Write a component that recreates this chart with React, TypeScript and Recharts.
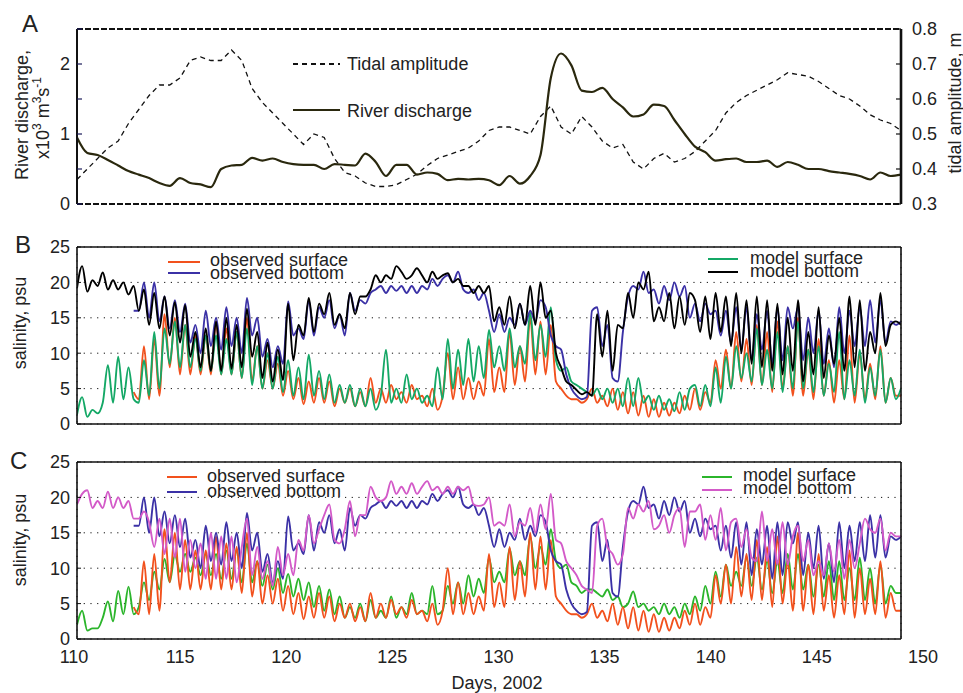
import { CartesianGrid, Line, LineChart, XAxis, YAxis } from 'recharts'

const FONT = '"Liberation Sans", Arial, Helvetica, sans-serif'
const INK = '#111111'
const TEXT = '#222222'
const WIDTH = 963

const OBS_SURFACE = '#f2511d'
const OBS_BOTTOM = '#3b31a6'
const MODEL_SURFACE_B = '#14a866'
const MODEL_BOTTOM_B = '#000000'
const MODEL_SURFACE_C = '#2bb52b'
const MODEL_BOTTOM_C = '#d35ac8'
const DISCHARGE_COLOR = '#2a280e'
const TIDE_COLOR = '#111111'

const DAY_TICKS = [110, 115, 120, 125, 130, 135, 140, 145, 150]
const SALINITY_TICKS = [0, 5, 10, 15, 20, 25]
const DISCHARGE_TICKS = [0, 0.5, 1, 1.5, 2, 2.5]
const TIDE_TICKS = [0.3, 0.4, 0.5, 0.6, 0.7, 0.8]

// Panel A: half-day values from day 110 to 150
const A_START = 110
const A_STEP = 0.5
// x10^3 m3/s
const riverDischarge = [
  0.95, 0.73, 0.7, 0.63, 0.55, 0.47, 0.42, 0.37, 0.3, 0.26, // 110-114.5
  0.37, 0.3, 0.28, 0.24, 0.5, 0.55, 0.56, 0.66, 0.62, 0.65, // 115-119.5
  0.6, 0.57, 0.56, 0.56, 0.5, 0.57, 0.56, 0.55, 0.72, 0.6, // 120-124.5
  0.4, 0.56, 0.56, 0.42, 0.45, 0.43, 0.34, 0.36, 0.35, 0.36, // 125-129.5
  0.34, 0.27, 0.4, 0.29, 0.4, 0.7, 1.8, 2.15, 1.98, 1.62, // 130-134.5
  1.6, 1.66, 1.5, 1.38, 1.25, 1.28, 1.42, 1.4, 1.2, 1.0, // 135-139.5
  0.82, 0.74, 0.62, 0.64, 0.65, 0.6, 0.6, 0.62, 0.53, 0.6, // 140-144.5
  0.56, 0.5, 0.5, 0.47, 0.45, 0.43, 0.4, 0.35, 0.45, 0.4, // 145-149.5
  0.42,
]
// m
const tidalAmplitude = [
  0.37, 0.4, 0.43, 0.46, 0.48, 0.53, 0.57, 0.61, 0.64, 0.64,
  0.66, 0.71, 0.72, 0.71, 0.71, 0.74, 0.71, 0.63, 0.59, 0.56,
  0.53, 0.5, 0.47, 0.5, 0.49, 0.43, 0.39, 0.38, 0.36, 0.35,
  0.35, 0.355, 0.37, 0.385, 0.41, 0.43, 0.44, 0.45, 0.46, 0.48,
  0.51, 0.52, 0.52, 0.51, 0.5, 0.55, 0.58, 0.52, 0.5, 0.55,
  0.52, 0.48, 0.46, 0.47, 0.42, 0.4, 0.43, 0.445, 0.42, 0.43,
  0.45, 0.48, 0.51, 0.56, 0.59, 0.61, 0.625, 0.64, 0.655, 0.675,
  0.67, 0.665, 0.65, 0.63, 0.61, 0.6, 0.58, 0.555, 0.54, 0.53,
  0.51,
]

// Panels B and C: quarter-day salinity (psu) from day 110 to 150
const S_START = 110
const S_STEP = 0.25

const observedSurface = [
  null, null, null, null, // 110
  null, null, null, null, // 111
  null, null, null, 4.5, // 112
  3.5, 11.0, 3.5, 12.0, // 113
  4.0, 15.5, 8.0, 15.0, // 114
  7.0, 14.0, 7.0, 12.5, // 115
  7.0, 12.5, 7.0, 14.5, // 116
  7.0, 13.5, 7.0, 13.0, // 117
  6.5, 15.0, 6.0, 11.0, // 118
  5.0, 9.0, 5.0, 8.5, // 119
  4.0, 7.5, 3.5, 6.5, // 120
  2.8, 6.0, 3.0, 6.5, // 121
  3.0, 6.0, 2.5, 5.0, // 122
  3.0, 5.0, 2.5, 4.5, // 123
  2.5, 6.5, 3.0, 5.0, // 124
  3.0, 5.5, 3.5, 4.5, // 125
  3.0, 5.5, 3.5, 4.0, // 126
  2.5, 5.0, 2.0, 4.0, // 127
  10.0, 3.5, 8.0, 3.5, // 128
  6.5, 3.5, 6.0, 4.0, // 129
  12.0, 4.5, 8.0, 4.5, // 130
  13.0, 5.5, 11.0, 6.0, // 131
  15.0, 7.0, 14.5, 7.0, // 132
  14.0, 6.0, 5.0, 4.0, // 133
  3.5, 3.5, 3.0, 3.5, // 134
  5.0, 3.0, 4.0, 2.5, // 135
  5.0, 2.0, 4.5, 1.5, // 136
  4.5, 1.2, 4.0, 1.0, // 137
  3.5, 1.0, 3.0, 1.2, // 138
  3.0, 1.5, 4.0, 2.0, // 139
  5.0, 2.0, 4.5, 3.0, // 140
  9.0, 5.0, 10.5, 5.0, // 141
  13.0, 6.0, 12.0, 5.5, // 142
  14.0, 5.5, 13.0, 4.5, // 143
  14.5, 5.0, 11.0, 4.0, // 144
  15.0, 4.0, 10.5, 3.5, // 145
  12.0, 4.0, 9.0, 3.0, // 146
  9.0, 3.5, 12.5, 3.0, // 147
  10.0, 3.5, 8.5, 3.5, // 148
  11.0, 3.0, 6.5, 4.0, // 149
  4.0, // 150
]

const observedBottom = [
  null, null, null, null, // 110
  null, null, null, null, // 111
  null, null, null, 16.0, // 112
  16.0, 20.0, 15.0, 20.0, // 113
  14.5, 18.0, 13.5, 17.5, // 114
  13.0, 17.0, 11.5, 14.0, // 115
  10.0, 16.0, 11.0, 15.0, // 116
  10.5, 16.5, 11.0, 15.0, // 117
  10.0, 17.8, 12.5, 15.0, // 118
  9.5, 12.0, 8.0, 11.0, // 119
  8.5, 17.3, 12.5, 13.5, // 120
  12.0, 17.5, 12.5, 16.5, // 121
  15.0, 17.5, 13.5, 15.5, // 122
  12.5, 18.5, 16.0, 17.5, // 123
  17.0, 18.5, 19.0, 19.5, // 124
  18.5, 19.5, 18.8, 19.5, // 125
  18.5, 19.5, 18.5, 19.5, // 126
  19.0, 20.5, 19.5, 20.5, // 127
  21.0, 20.0, 21.5, 19.0, // 128
  18.5, 19.0, 17.5, 18.5, // 129
  16.0, 13.0, 15.5, 13.0, // 130
  15.0, 14.0, 17.0, 14.0, // 131
  16.0, 14.5, 17.5, 16.5, // 132
  12.5, 11.0, 10.5, 7.0, // 133
  5.0, 4.0, 3.5, 3.8, // 134
  16.0, 16.5, 11.0, 14.0, // 135
  6.5, 6.0, 13.0, 18.0, // 136
  19.5, 19.0, 21.5, 18.5, // 137
  19.0, 17.0, 19.5, 17.5, // 138
  20.0, 18.0, 19.5, 15.0, // 139
  17.0, 14.5, 17.0, 15.5, // 140
  16.0, 12.5, 16.0, 11.5, // 141
  16.5, 10.5, 16.5, 9.0, // 142
  15.5, 10.5, 16.0, 8.5, // 143
  16.5, 9.0, 16.5, 13.5, // 144
  16.5, 9.0, 15.0, 10.0, // 145
  16.0, 8.5, 13.5, 8.0, // 146
  16.5, 10.0, 16.0, 11.0, // 147
  16.5, 11.0, 17.5, 11.5, // 148
  17.5, 11.5, 14.5, 14.0, // 149
  14.5, // 150
]

// run 1 (panel B)
const modelSurfaceB = [
  1.3, 3.8, 1.0, 2.0, // 110
  1.5, 3.0, 8.3, 3.0, // 111
  9.5, 3.5, 8.0, 3.5, // 112
  3.0, 9.0, 4.0, 13.0, // 113
  5.0, 13.5, 8.5, 14.5, // 114
  8.0, 14.0, 8.0, 12.0, // 115
  7.5, 12.5, 7.5, 12.5, // 116
  7.0, 12.0, 7.0, 13.0, // 117
  6.5, 13.5, 5.5, 11.0, // 118
  5.0, 10.0, 5.0, 9.5, // 119
  4.5, 9.0, 4.0, 8.0, // 120
  3.5, 9.8, 4.0, 7.5, // 121
  3.5, 7.0, 3.0, 5.5, // 122
  3.0, 5.5, 2.5, 5.0, // 123
  2.5, 5.0, 2.0, 4.0, // 124
  10.5, 3.0, 5.0, 3.0, // 125
  7.0, 3.5, 5.0, 3.0, // 126
  4.0, 2.5, 8.0, 3.5, // 127
  12.0, 5.0, 10.5, 5.5, // 128
  12.0, 6.0, 11.0, 6.5, // 129
  13.3, 8.0, 11.0, 7.5, // 130
  13.5, 8.0, 11.0, 8.5, // 131
  15.8, 9.0, 14.0, 9.5, // 132
  16.5, 9.0, 7.5, 8.0, // 133
  6.0, 5.5, 5.0, 4.5, // 134
  4.0, 5.0, 3.5, 5.0, // 135
  3.0, 5.0, 2.5, 6.5, // 136
  2.5, 6.5, 3.0, 4.0, // 137
  2.0, 4.0, 2.0, 3.5, // 138
  1.8, 4.5, 2.0, 5.0, // 139
  5.5, 2.5, 5.5, 2.5, // 140
  8.0, 3.0, 9.5, 5.0, // 141
  11.0, 6.5, 10.0, 6.0, // 142
  13.5, 5.5, 10.5, 5.0, // 143
  13.0, 4.5, 11.0, 5.0, // 144
  14.5, 5.0, 10.5, 4.5, // 145
  11.0, 4.0, 8.5, 4.5, // 146
  13.0, 3.5, 9.0, 4.0, // 147
  10.5, 3.0, 8.0, 4.0, // 148
  10.5, 3.0, 6.5, 3.5, // 149
  5.0, // 150
]

const modelBottomB = [
  19.2, 22.3, 18.7, 20.3, // 110
  19.5, 21.4, 19.0, 20.3, // 111
  19.0, 20.0, 18.3, 19.5, // 112
  16.0, 19.0, 14.0, 18.5, // 113
  13.5, 18.0, 12.5, 17.2, // 114
  11.5, 16.8, 9.5, 13.0, // 115
  8.0, 13.5, 7.5, 14.5, // 116
  7.5, 15.0, 7.8, 14.0, // 117
  8.0, 16.3, 9.5, 13.0, // 118
  6.5, 11.5, 6.0, 10.5, // 119
  6.2, 17.0, 9.0, 14.0, // 120
  12.5, 17.8, 13.0, 17.0, // 121
  15.5, 18.5, 14.0, 15.5, // 122
  13.5, 18.5, 15.5, 18.0, // 123
  18.0, 19.0, 21.0, 20.0, // 124
  21.0, 20.5, 22.3, 21.5, // 125
  20.5, 21.0, 22.0, 21.0, // 126
  20.0, 21.5, 20.5, 21.0, // 127
  21.3, 20.0, 20.5, 19.5, // 128
  19.5, 18.5, 19.5, 18.5, // 129
  19.5, 14.5, 16.5, 14.0, // 130
  18.0, 13.5, 17.0, 14.0, // 131
  19.5, 14.0, 20.0, 15.0, // 132
  16.0, 10.0, 8.0, 6.0, // 133
  5.5, 4.8, 4.2, 4.5, // 134
  4.0, 15.5, 9.5, 16.0, // 135
  7.5, 14.0, 13.5, 18.5, // 136
  15.0, 20.0, 19.0, 21.5, // 137
  14.5, 16.5, 14.5, 18.5, // 138
  13.5, 18.0, 14.0, 18.5, // 139
  17.5, 13.0, 18.0, 12.0, // 140
  18.5, 13.0, 18.0, 11.0, // 141
  18.5, 10.0, 17.5, 8.5, // 142
  18.0, 8.0, 17.5, 7.5, // 143
  17.0, 7.0, 15.0, 7.5, // 144
  17.5, 6.0, 13.0, 7.0, // 145
  16.5, 6.5, 12.5, 8.5, // 146
  15.0, 7.5, 18.0, 8.0, // 147
  17.5, 7.5, 13.0, 10.0, // 148
  18.5, 11.0, 14.0, 14.5, // 149
  14.0, // 150
]

// run 2 (panel C)
const modelSurfaceC = [
  2.0, 4.0, 1.2, 1.5, // 110
  1.5, 3.0, 5.3, 2.5, // 111
  6.8, 3.5, 7.4, 3.5, // 112
  4.5, 8.0, 5.5, 9.5, // 113
  7.0, 11.3, 8.0, 11.9, // 114
  9.5, 12.0, 9.5, 11.5, // 115
  9.0, 12.0, 9.0, 12.0, // 116
  8.5, 12.5, 8.5, 12.5, // 117
  8.0, 13.5, 8.0, 11.0, // 118
  7.5, 10.5, 7.0, 10.0, // 119
  6.5, 9.2, 6.0, 8.5, // 120
  5.5, 8.0, 4.5, 7.5, // 121
  4.0, 7.0, 3.5, 6.0, // 122
  3.0, 4.5, 3.0, 5.0, // 123
  2.5, 5.5, 3.0, 4.0, // 124
  3.0, 6.0, 3.0, 4.5, // 125
  3.5, 6.5, 3.5, 4.0, // 126
  3.5, 7.5, 3.5, 4.0, // 127
  7.5, 5.0, 8.0, 5.0, // 128
  9.0, 6.0, 8.5, 6.5, // 129
  11.5, 8.0, 9.5, 8.0, // 130
  12.8, 9.0, 11.0, 9.0, // 131
  14.5, 10.0, 13.0, 10.5, // 132
  15.5, 11.0, 10.0, 10.5, // 133
  8.0, 7.5, 6.5, 7.0, // 134
  7.0, 6.5, 6.0, 7.0, // 135
  5.5, 6.0, 4.5, 5.0, // 136
  6.7, 4.5, 5.0, 4.0, // 137
  4.5, 3.5, 5.0, 3.5, // 138
  4.5, 3.0, 5.0, 3.5, // 139
  6.0, 4.0, 7.5, 5.0, // 140
  9.5, 6.0, 10.5, 7.5, // 141
  9.5, 7.5, 11.5, 7.5, // 142
  11.5, 7.0, 11.0, 6.5, // 143
  11.0, 6.5, 12.0, 7.0, // 144
  12.0, 7.0, 10.5, 6.0, // 145
  10.5, 6.0, 11.0, 5.5, // 146
  11.0, 5.5, 10.0, 5.5, // 147
  11.5, 5.5, 10.0, 5.0, // 148
  10.5, 5.0, 7.5, 6.5, // 149
  6.5, // 150
]

const modelBottomC = [
  19.0, 20.5, 21.0, 18.5, // 110
  19.5, 18.5, 20.8, 18.5, // 111
  20.0, 18.5, 19.5, 17.0, // 112
  17.0, 18.0, 16.5, 13.0, // 113
  17.0, 12.0, 17.0, 11.5, // 114
  17.0, 9.5, 14.0, 10.0, // 115
  13.5, 8.5, 15.0, 8.5, // 116
  14.5, 8.5, 14.5, 8.0, // 117
  13.0, 17.0, 9.0, 13.0, // 118
  8.5, 11.0, 7.5, 13.0, // 119
  9.0, 12.0, 9.0, 14.0, // 120
  12.5, 17.5, 13.5, 15.5, // 121
  17.5, 19.0, 14.0, 13.5, // 122
  15.5, 19.5, 14.5, 17.5, // 123
  17.5, 21.5, 20.0, 19.5, // 124
  20.0, 22.3, 20.5, 21.5, // 125
  20.5, 22.0, 20.5, 21.5, // 126
  22.3, 21.0, 21.5, 20.5, // 127
  21.5, 20.5, 21.5, 21.0, // 128
  21.5, 19.0, 18.8, 19.0, // 129
  20.0, 16.0, 16.5, 16.0, // 130
  19.0, 14.5, 16.5, 16.0, // 131
  18.5, 15.0, 19.0, 15.5, // 132
  20.5, 14.0, 13.5, 11.0, // 133
  10.0, 9.0, 7.5, 7.0, // 134
  6.5, 16.0, 17.0, 13.0, // 135
  12.0, 10.5, 12.0, 18.5, // 136
  17.0, 19.0, 18.0, 19.5, // 137
  15.5, 16.0, 17.5, 15.0, // 138
  17.5, 18.5, 13.0, 18.0, // 139
  18.0, 19.0, 14.0, 17.5, // 140
  14.0, 18.5, 12.5, 16.5, // 141
  17.0, 13.0, 15.5, 11.5, // 142
  11.0, 18.0, 11.0, 15.5, // 143
  10.5, 16.5, 10.5, 14.5, // 144
  16.0, 11.0, 14.0, 9.0, // 145
  11.0, 9.0, 13.5, 9.5, // 146
  14.0, 8.5, 14.0, 10.0, // 147
  13.5, 17.0, 15.5, 15.0, // 148
  17.0, 12.5, 15.0, 14.5, // 149
  14.5, // 150
]

const panelAData = riverDischarge.map((q, i) => ({
  day: A_START + i * A_STEP,
  discharge: q,
  tide: tidalAmplitude[i],
}))

const salinityData = modelBottomB.map((_, i) => ({
  day: S_START + i * S_STEP,
  obsSurface: observedSurface[i],
  obsBottom: observedBottom[i],
  surfaceB: modelSurfaceB[i],
  bottomB: modelBottomB[i],
  surfaceC: modelSurfaceC[i],
  bottomC: modelBottomC[i],
}))

const TICK_STYLE = { fill: TEXT, fontSize: 18, fontFamily: FONT }
const FRAME = { stroke: INK, strokeWidth: 1.6 }
const FRAME_TICK = { stroke: INK, strokeWidth: 1 }

// box around the salinity panels, ticks pointing inwards on all four sides
function salinityFrame() {
  return [
    <XAxis key="xb" dataKey="day" type="number" domain={[110, 150]} allowDataOverflow ticks={DAY_TICKS} interval={0}
      tick={false} height={1} tickSize={-4} axisLine={FRAME} tickLine={FRAME_TICK} />,
    <XAxis key="xt" xAxisId="top" orientation="top" type="number" domain={[110, 150]} allowDataOverflow ticks={DAY_TICKS}
      interval={0} tick={false} height={1} tickSize={-4} axisLine={FRAME} tickLine={FRAME_TICK} />,
    <YAxis key="yl" type="number" domain={[0, 25]} allowDataOverflow ticks={SALINITY_TICKS} interval={0} width={50}
      tickSize={-4} tickMargin={11} tick={TICK_STYLE} axisLine={FRAME} tickLine={FRAME_TICK} />,
    <YAxis key="yr" yAxisId="right" orientation="right" type="number" domain={[0, 25]} allowDataOverflow
      ticks={SALINITY_TICKS} interval={0} tick={false} width={10} tickSize={-4} axisLine={FRAME} tickLine={FRAME_TICK} />,
    <CartesianGrid key="grid" stroke={INK} strokeWidth={1} strokeDasharray="1.2 5.5" />,
  ]
}

function salinityLine(key: string, color: string) {
  return (
    <Line key={key} dataKey={key} type="monotone" stroke={color} strokeWidth={1.9} dot={false} activeDot={false}
      isAnimationActive={false} connectNulls={false} />
  )
}

function PanelA() {
  const edge = { stroke: INK, strokeWidth: 2, strokeDasharray: '6 2' }
  return (
    <LineChart width={WIDTH} height={230} data={panelAData} margin={{ top: 28, right: 12, bottom: 25, left: 27 }}>
      <XAxis dataKey="day" type="number" domain={[110, 150]} ticks={DAY_TICKS} interval={0} tick={false} height={1}
        tickSize={-5} axisLine={edge} tickLine={FRAME_TICK} />
      <XAxis xAxisId="top" orientation="top" type="number" domain={[110, 150]} allowDataOverflow ticks={DAY_TICKS}
        interval={0} tick={false} height={1} tickSize={-5} axisLine={edge} tickLine={FRAME_TICK} />
      <YAxis yAxisId="q" type="number" domain={[0, 2.5]} allowDataOverflow ticks={DISCHARGE_TICKS} interval={0}
        width={50} tickSize={-5} tickMargin={12} tick={TICK_STYLE}
        tickFormatter={(v: number) => (Number.isInteger(v) ? String(v) : '')}
        axisLine={{ stroke: INK, strokeWidth: 2 }} tickLine={{ stroke: '#1c1c5a', strokeWidth: 1.2 }} />
      <YAxis yAxisId="tide" orientation="right" type="number" domain={[0.3, 0.8]} allowDataOverflow ticks={TIDE_TICKS}
        interval={0} width={50} tickSize={-5} tickMargin={16} tick={TICK_STYLE}
        tickFormatter={(v: number) => v.toFixed(1)}
        axisLine={{ stroke: INK, strokeWidth: 2.6 }} tickLine={{ stroke: INK, strokeWidth: 1.2 }} />
      <Line yAxisId="tide" dataKey="tide" type="linear" stroke={TIDE_COLOR} strokeWidth={1.3} strokeDasharray="5 4"
        dot={false} activeDot={false} isAnimationActive={false} />
      <Line yAxisId="q" dataKey="discharge" type="monotone" stroke={DISCHARGE_COLOR} strokeWidth={2.2}
        dot={false} activeDot={false} isAnimationActive={false} />
    </LineChart>
  )
}

function PanelB() {
  return (
    <LineChart width={WIDTH} height={210} data={salinityData} margin={{ top: 16, right: 52, bottom: 15, left: 27 }}>
      {salinityFrame()}
      {salinityLine('obsSurface', OBS_SURFACE)}
      {salinityLine('surfaceB', MODEL_SURFACE_B)}
      {salinityLine('obsBottom', OBS_BOTTOM)}
      {salinityLine('bottomB', MODEL_BOTTOM_B)}
    </LineChart>
  )
}

function PanelC() {
  return (
    <LineChart width={WIDTH} height={215} data={salinityData} margin={{ top: 16, right: 52, bottom: 20, left: 27 }}>
      {salinityFrame()}
      {salinityLine('surfaceC', MODEL_SURFACE_C)}
      {salinityLine('obsSurface', OBS_SURFACE)}
      {salinityLine('obsBottom', OBS_BOTTOM)}
      {salinityLine('bottomC', MODEL_BOTTOM_C)}
    </LineChart>
  )
}

// day labels under the bottom panel sit on their own, slightly wider scale
function DayLabels() {
  return (
    <LineChart width={WIDTH} height={70} data={salinityData} margin={{ top: 0, right: 40, bottom: 10, left: 74 }}>
      <XAxis dataKey="day" type="number" domain={[110, 150]} allowDataOverflow ticks={DAY_TICKS} interval={0}
        height={30} axisLine={false} tickLine={false} tickSize={0} tickMargin={0} tick={TICK_STYLE} />
    </LineChart>
  )
}

type LegendItem = { label: string; color: string; dash?: string }

function LegendBlock({ x, lineY, textY, items, len = 30, gap = 10 }: {
  x: number; lineY: number[]; textY: number[]; items: LegendItem[]; len?: number; gap?: number
}) {
  return (
    <g>
      {items.map((it, i) => (
        <g key={it.label}>
          <line x1={x} x2={x + len} y1={lineY[i]} y2={lineY[i]} stroke={it.color} strokeWidth={2}
            strokeDasharray={it.dash} />
          <text x={x + len + gap} y={textY[i]} fontSize={18} fill={TEXT}>{it.label}</text>
        </g>
      ))}
    </g>
  )
}

function Annotations() {
  const sup = { fontSize: 12 }
  return (
    <svg width={WIDTH} height={693} style={{ position: 'absolute', left: 0, top: 0, pointerEvents: 'none' }}
      fontFamily={FONT}>
      <text x={22} y={32} fontSize={24} fill={TEXT}>A</text>
      <text x={15} y={253} fontSize={24} fill={TEXT}>B</text>
      <text x={10} y={469} fontSize={24} fill={TEXT}>C</text>

      <text transform="translate(28,115) rotate(-90)" textAnchor="middle" fontSize={18} fill={TEXT}>
        River discharge,
      </text>
      <text transform="translate(49,118) rotate(-90)" textAnchor="middle" fontSize={18} fill={TEXT}>
        x10<tspan {...sup} dy={-8}>3</tspan><tspan dy={8}> m</tspan><tspan {...sup} dy={-8}>3</tspan>
        <tspan dy={8}>s</tspan><tspan {...sup} dy={-8}>-1</tspan>
      </text>
      <text transform="translate(961,103) rotate(-90)" textAnchor="middle" fontSize={18} fill={TEXT}>
        tidal amplitude, m
      </text>
      <text transform="translate(26,323) rotate(-90)" textAnchor="middle" fontSize={18} fill={TEXT}>
        salinity, psu
      </text>
      <text transform="translate(26,540) rotate(-90)" textAnchor="middle" fontSize={18} fill={TEXT}>
        salinity, psu
      </text>
      <text x={497} y={689} textAnchor="middle" fontSize={18} fill={TEXT}>Days, 2002</text>

      <LegendBlock x={293} len={47} gap={7} lineY={[64, 110]} textY={[70, 117]} items={[
        { label: 'Tidal amplitude', color: TIDE_COLOR, dash: '5 4' },
        { label: 'River discharge', color: DISCHARGE_COLOR },
      ]} />
      <LegendBlock x={168} len={32} lineY={[262, 273]} textY={[266, 279]} items={[
        { label: 'observed surface', color: OBS_SURFACE },
        { label: 'observed bottom', color: OBS_BOTTOM },
      ]} />
      <LegendBlock x={708} lineY={[259, 272]} textY={[264, 277]} gap={12} items={[
        { label: 'model surface', color: MODEL_SURFACE_B },
        { label: 'model bottom', color: MODEL_BOTTOM_B },
      ]} />
      <LegendBlock x={167} lineY={[477, 492]} textY={[482, 497]} items={[
        { label: 'observed surface', color: OBS_SURFACE },
        { label: 'observed bottom', color: OBS_BOTTOM },
      ]} />
      <LegendBlock x={702} lineY={[477, 490]} textY={[481, 494]} gap={11} items={[
        { label: 'model surface', color: MODEL_SURFACE_C },
        { label: 'model bottom', color: MODEL_BOTTOM_C },
      ]} />
    </svg>
  )
}

export default function App() {
  return (
    <div style={{ position: 'absolute', left: 0, top: 0, width: WIDTH, height: 693, background: '#fff',
      fontFamily: FONT, overflow: 'hidden' }}>
      <div style={{ position: 'absolute', left: 0, top: 0 }}><PanelA /></div>
      <div style={{ position: 'absolute', left: 0, top: 230 }}><PanelB /></div>
      <div style={{ position: 'absolute', left: 0, top: 445 }}><PanelC /></div>
      <div style={{ position: 'absolute', left: 0, top: 620 }}><DayLabels /></div>
      <Annotations />
    </div>
  )
}
